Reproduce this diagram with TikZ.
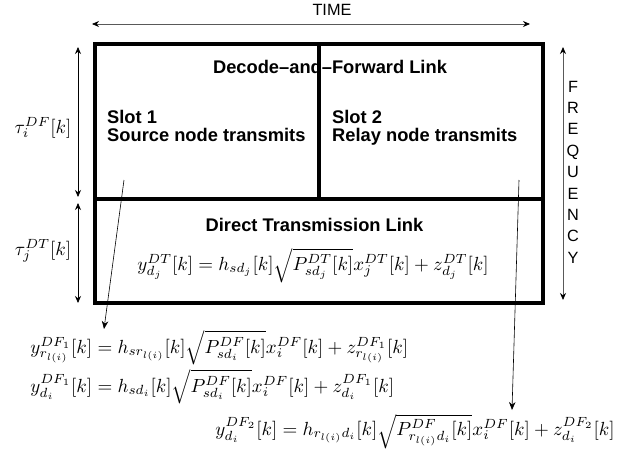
\documentclass[tikz,border=0pt]{standalone}
\usepackage{fontspec}
\setsansfont{Liberation Sans}
\usetikzlibrary{arrows.meta}
\begin{document}
\begin{tikzpicture}[x=1pt,y=-1pt,
  lbl/.style={font=\fontsize{18.3}{21}\selectfont\sffamily\bfseries, inner sep=0pt},
  axis/.style={font=\fontsize{16.3}{21.4}\selectfont\sffamily, inner sep=0pt},
  eq/.style={font=\normalsize, scale=1.9, inner sep=0pt},
  boxline/.style={line width=4.2pt},
  dim/.style={{Stealth[length=7pt,width=6pt,color=black]}-{Stealth[length=7pt,width=6pt,color=black]}, line width=0.8pt},
  ptr/.style={-{Stealth[length=8pt,width=6.5pt]}, line width=0.6pt}]
\useasboundingbox (0,0) rectangle (635,452);
% texts
\node[axis] (time) at (332,10) {TIME};
\node[axis, align=center] (freq) at (573,172) {F\\R\\E\\Q\\U\\E\\N\\C\\Y};
\node[lbl] (df) at (330,67) {Decode–and–Forward Link};
\node[lbl, anchor=base west] (s1) at (107,124) {Slot 1};
\node[lbl, anchor=base west] (s1b) at (107,141) {Source node transmits};
\node[lbl, anchor=base west] (s2) at (332,124) {Slot 2};
\node[lbl, anchor=base west] (s2b) at (332,141) {Relay node transmits};
\node[lbl] (dt) at (314.5,225) {Direct Transmission Link};
\node[eq, anchor=base] (eqdt) at (313,270) {$y_{d_j}^{DT}[k]=h_{sd_j}[k]\sqrt{P_{sd_j}^{DT}[k]}x_j^{DT}[k]+z_{d_j}^{DT}[k]$};
\node[eq, anchor=base] (tdf) at (43,133) {$\tau_i^{DF}[k]$};
\node[eq, anchor=base] (tdt) at (43,255) {$\tau_j^{DT}[k]$};
\node[eq, anchor=base west] (eq1) at (30,353) {$y_{r_{l(i)}}^{DF_1}[k]=h_{sr_{l(i)}}[k]\sqrt{P_{sd_i}^{DF}[k]}x_i^{DF}[k]+z_{r_{l(i)}}^{DF_1}[k]$};
\node[eq, anchor=base west] (eq2) at (30,392) {$y_{d_i}^{DF_1}[k]=h_{sd_i}[k]\sqrt{P_{sd_i}^{DF}[k]}x_i^{DF}[k]+z_{d_i}^{DF_1}[k]$};
\node[eq, anchor=base east] (eq3) at (615,435) {$y_{d_i}^{DF_2}[k]=h_{r_{l(i)}d_i}[k]\sqrt{P_{r_{l(i)}d_i}^{DF}[k]}x_i^{DF}[k]+z_{d_i}^{DF_2}[k]$};
% frame
\draw[boxline] (95,44) rectangle (543,303);
\draw[boxline] (95,199) -- (543,199);
\draw[boxline] (319,44) -- (319,199);
% dimension arrows
\coordinate (tl) at (92,24); \coordinate (tr) at (530,24);
\draw[dim, gray!70!black] (tl) -- (tr);
\coordinate (ft) at (563,47); \coordinate (fb) at (563,300);
\draw[dim, gray!70!black] (ft) -- (fb);
\coordinate (u1) at (78,47); \coordinate (u2) at (78,197);
\draw[dim] (u1) -- (u2);
\coordinate (l1) at (78,203); \coordinate (l2) at (78,303);
\draw[dim] (l1) -- (l2);
% pointers
\coordinate (p1s) at (124,180); \coordinate (p1e) at (104,329);
\draw[ptr] (p1s) -- (p1e);
\coordinate (p2s) at (519,180); \coordinate (p2e) at (512,410);
\draw[ptr] (p2s) -- (p2e);
\end{tikzpicture}
\end{document}
